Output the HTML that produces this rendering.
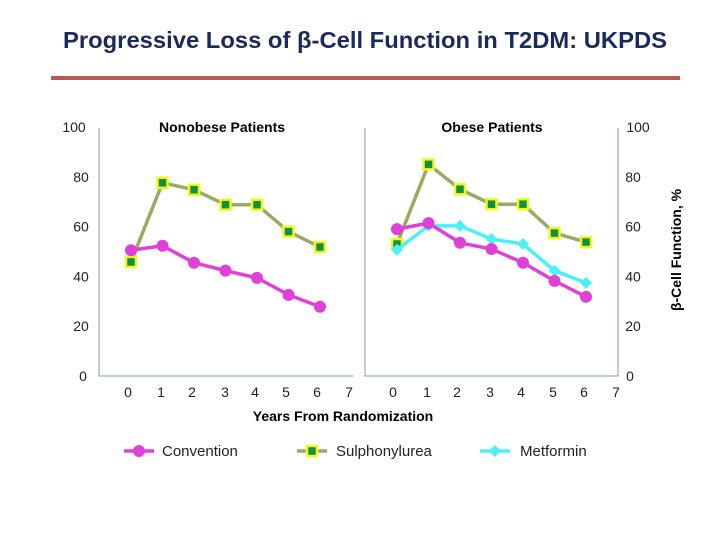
<!DOCTYPE html>
<html><head><meta charset="utf-8"><style>
body{margin:0;background:#fff;width:720px;height:540px;overflow:hidden}
svg{display:block;font-family:"Liberation Sans",sans-serif}
</style></head><body>
<svg id="chart" width="720" height="540">
<text x="63" y="48" font-size="23" font-weight="bold" fill="#1b2a5c" textLength="604" lengthAdjust="spacingAndGlyphs">Progressive Loss of β-Cell  Function in T2DM: UKPDS</text>
<rect x="51" y="76" width="629" height="4" fill="#be5550"/>
<g id="plots"></g>
<text x="343" y="421" font-size="14" font-weight="bold" text-anchor="middle">Years From Randomization</text>
<text transform="translate(681,250) rotate(-90)" font-size="14" font-weight="bold" text-anchor="middle">β-Cell Function, %</text>
<g id="legend"></g>
</svg>
<script>
const years=[0,1,2,3,4,5,6];
const yTicks=[0,20,40,60,80,100];
const xTickLabels=["0","1","2","3","4","5","6","7"];
const nonobeseConv=[50.5,52.3,45.5,42.3,39.4,32.6,27.8];
const nonobeseSulph=[45.8,77.6,74.8,68.8,68.8,58,51.8];
const obeseConv=[59,61.4,53.5,51,45.5,38.2,31.8];
const obeseSulph=[53,85,75,69,69,57.4,53.8];
const obeseMet=[50.7,60.3,60.3,55,53,42.3,37.4];

const NS="http://www.w3.org/2000/svg";
const svg=document.getElementById('chart');
function mk(tag,attrs,parent){const e=document.createElementNS(NS,tag);for(const k in attrs)e.setAttribute(k,attrs[k]);(parent||svg).appendChild(e);return e;}
const yS=v=>376-2.49*v;
const plots=document.getElementById('plots');

const panels=[
 {name:'nonobese',title:'Nonobese Patients',x0:131,step:31.5,axL:99,axR:353,tickX:[128,161,192,225,255,286,317,349],titleX:222,
  series:[{vals:nonobeseSulph,type:'sulph'},{vals:nonobeseConv,type:'conv'}]},
 {name:'obese',title:'Obese Patients',x0:397,step:31.5,axL:365,axR:618,tickX:[393,427,457,490,521,553,584,616],titleX:492,
  series:[{vals:obeseSulph,type:'sulph'},{vals:obeseMet,type:'met'},{vals:obeseConv,type:'conv'}]}
];
const colors={conv:'#e040d8',sulph:'#9aaa60',met:'#4ef0f8'};

panels.forEach(p=>{
  const g=mk('g',{},plots);
  
  
  const ax=mk('path',{d:`M${p.axL} 128V376H${p.axR}`+(p.name==='obese'?'V128':''),fill:'none',stroke:'#8a98a8','stroke-width':1},g);
  
  
  const t=mk('text',{x:p.titleX,y:132,'font-size':14,'font-weight':'bold','text-anchor':'middle'},g);
  t.textContent=p.title;
  
  
  xTickLabels.forEach((lab,i)=>{
    const tx=mk('text',{x:p.tickX[i],y:397,'font-size':14,'text-anchor':'middle',fill:'#222'},g);
    tx.textContent=lab;
    
    
  });
  p.series.forEach(s=>{
    const xs=years.map(y=>p.x0+p.step*y);
    const pts=s.vals.map((v,i)=>xs[i]+','+yS(v)).join(' ');
    const l=mk('polyline',{points:pts,fill:'none',stroke:colors[s.type],'stroke-width':3.5},g);
    
    
    s.vals.forEach((v,i)=>{
      let m;
      const cx=xs[i],cy=yS(v);
      if(s.type==='conv')m=mk('circle',{cx:cx,cy:cy,r:6,fill:colors.conv},g);
      else if(s.type==='met')m=mk('path',{d:`M${cx} ${cy-6}L${cx+6} ${cy}L${cx} ${cy+6}L${cx-6} ${cy}Z`,fill:colors.met},g);
      else m=mk('rect',{x:cx-5,y:cy-5,width:10,height:10,fill:'#109040',stroke:'#f0f820','stroke-width':2.5},g);
      
      
    });
  });
});
yTicks.forEach(v=>{
  const a=mk('text',{x:v===0?83:(v===100?74:81),y:yS(v)+5,'font-size':14,'text-anchor':'middle',fill:'#222'},plots);
  a.textContent=v;
  
  
  const b=mk('text',{x:v===100?638:(v===0?630:633),y:yS(v)+5,'font-size':14,'text-anchor':'middle',fill:'#222'},plots);
  b.textContent=v;
  
  
});
const leg=document.getElementById('legend');
const items=[['conv','Convention',124,162],['sulph','Sulphonylurea',297,336],['met','Metformin',480,520]];
items.forEach(it=>{
  const g=mk('g',{},leg);
  
  
  const x=it[2],cx=x+15,cy=451;
  mk('line',{x1:x,y1:cy,x2:x+30,y2:cy,stroke:colors[it[0]],'stroke-width':3.5},g);
  if(it[0]==='conv')mk('circle',{cx:cx,cy:cy,r:6,fill:colors.conv},g);
  else if(it[0]==='met')mk('path',{d:`M${cx} ${cy-6}L${cx+6} ${cy}L${cx} ${cy+6}L${cx-6} ${cy}Z`,fill:colors.met},g);
  else mk('rect',{x:cx-5,y:cy-5,width:10,height:10,fill:'#109040',stroke:'#f0f820','stroke-width':2.5},g);
  const t=mk('text',{x:it[3],y:456,'font-size':15,fill:'#222'},g);
  t.textContent=it[1];
});
</script>
</body></html>
